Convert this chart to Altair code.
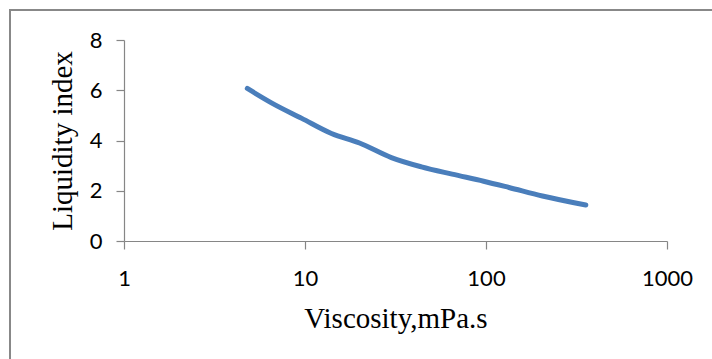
import altair as alt
import pandas as pd

viscosity = [4.8, 6.6, 9.6, 14, 20, 30, 44, 65, 97, 134, 205, 356]
liquidity = [6.07, 5.48, 4.88, 4.28, 3.9, 3.32, 2.95, 2.66, 2.38, 2.13, 1.79, 1.43]
x_ticks = [1, 10, 100, 1000]
y_ticks = [0, 2, 4, 6, 8]

df = pd.DataFrame({"Viscosity": viscosity, "Liquidity": liquidity})

line = alt.Chart(df).mark_line(
    color="#4A7EBB", strokeWidth=5, interpolate="monotone", strokeCap="round"
).encode(
    x=alt.X(
        "Viscosity:Q",
        scale=alt.Scale(type="log", domain=[1, 1000]),
        axis=alt.Axis(
            values=x_ticks, format="d", title="Viscosity,mPa.s", grid=False,
            labelFlush=False, labelOverlap=False,
            tickSize=8, labelPadding=19, titlePadding=15,
        ),
    ),
    y=alt.Y(
        "Liquidity:Q",
        scale=alt.Scale(domain=[0, 8]),
        axis=alt.Axis(
            values=y_ticks, title="Liquidity index", grid=False,
            tickSize=8, labelPadding=14, titlePadding=12,
        ),
    ),
)

border = alt.Chart(df.head(1)).mark_rect(
    fill=None, stroke="#888888", strokeWidth=2
).encode(
    x=alt.value(-114), x2=alt.value(620), y=alt.value(-30), y2=alt.value(360)
)

chart = alt.layer(border, line).properties(
    width=543, height=201,
    padding={"left": 124, "top": 40, "right": 45, "bottom": 118},
    autosize=alt.AutoSizeParams(type="none"),
    background="white",
).configure_view(stroke=None).configure_axis(
    domainColor="#868686", tickColor="#868686", domainWidth=1.2, tickWidth=1.2,
    labelFont="Lato", labelFontSize=22, labelColor="black",
    titleFont="Liberation Serif", titleFontSize=29, titleFontWeight="normal",
    titleColor="black",
)

chart.save("out.html", embed_options={"renderer": "svg", "actions": False})
